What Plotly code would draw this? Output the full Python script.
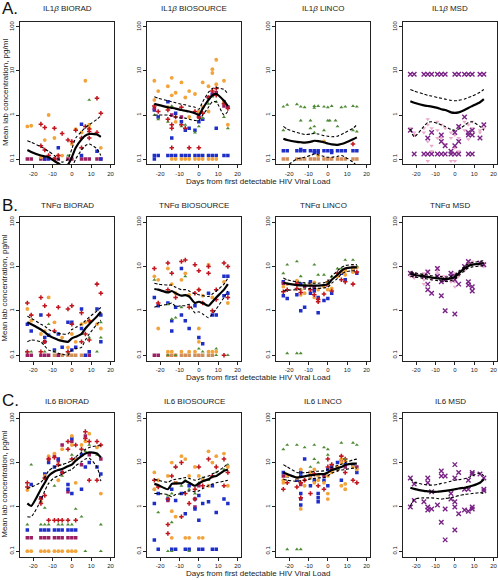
import plotly.graph_objects as go

W, H = 498, 580

FIT_DAYS = [-23, -21, -16, -14, -12, -9, -7, -5, -2, 0, 2, 5, 7, 9, 13, 15]
X_TICKS = [-20, -10, 0, 10, 20]
Y_TICKS = [0.1, 1, 10, 100]
Y_TICK_TEXT = ["0.1", "1", "10", "100"]
ROW_LABELS = ["A.", "B.", "C."]
Y_TITLE = "Mean lab concentration, pg/ml"
X_TITLE = "Days from first detectable HIV Viral Load"
TITLES = ["IL1<i>β</i> BIORAD", "IL1<i>β</i> BIOSOURCE", "IL1<i>β</i> LINCO", "IL1<i>β</i> MSD",
          "TNFα BIORAD", "TNFα BIOSOURCE", "TNFα LINCO", "TNFα MSD",
          "IL6 BIORAD", "IL6 BIOSOURCE", "IL6 LINCO", "IL6 MSD"]

# ---------------- IL1beta BIORAD ----------------
IL1B_BIORAD_red = [(-16,0.62),(-14,0.52),(-9,0.5),(-5,0.38),(-16,0.2),(-14,0.16),(-12,0.12),(-9,0.1),(-7,0.12),
                   (-2,0.27),(0,0.25),(2,0.45),(5,0.3),(5,0.18),(7,0.55),(9,0.48),(9,0.42),(9,0.3),(13,2.4),(13,0.4),(15,1.1)]
IL1B_BIORAD_orange = [(-23,0.55),(-21,0.57),(-12,1.0),(-14,0.27),(-9,0.3),(-16,0.11),(-7,0.12),(-5,0.12),(0,0.22),
                      (2,0.48),(5,0.4),(7,6.0),(9,0.5),(9,0.6),(15,0.18)]
IL1B_BIORAD_blue = [(-14,0.1),(-12,0.1),(-7,0.18),(5,0.62),(5,0.12),(13,0.15),(15,0.1)]
IL1B_BIORAD_maroon = [(-23,0.1),(-21,0.1),(-16,0.1),(-14,0.1),(-9,0.1),(-7,0.1),(-2,0.1),(0,0.1),(5,0.1),(7,0.1),
                      (9,0.1),(13,0.1),(15,0.1)]
IL1B_BIORAD_green = [(9,2.2),(5,0.3),(-2,0.12)]
IL1B_BIORAD_fit = [0.16,0.145,0.12,0.115,0.11,0.09,0.08,0.07,0.075,0.11,0.18,0.28,0.34,0.37,0.36,0.32]
IL1B_BIORAD_upper = [0.26,0.24,0.19,0.17,0.15,0.12,0.1,0.085,0.1,0.17,0.3,0.42,0.52,0.6,0.8,0.95]
IL1B_BIORAD_lower = [0.05,0.045,0.04,0.035,0.03,0.025,0.02,0.02,0.03,0.06,0.1,0.16,0.2,0.22,0.17,0.12]

# ---------------- IL1beta BIOSOURCE ----------------
IL1B_BIOSOURCE_orange = [(-23,6),(-21,3.5),(-16,4.5),(-14,7),(-14,2.8),(-12,3.2),(-9,5.5),(-7,2.5),(-5,3.5),(-2,3.0),
                         (0,1.2),(2,5.5),(5,4.5),(7,11),(7,9),(9,18),(9,5),(13,6),(15,0.6),(-16,1.5),(-12,0.7),(-5,0.9),
                         (2,1.5),(13,2),(5,1.2),(-23,2.2),(-14,0.1),(-12,0.1),(-9,0.1),(-7,0.1),(-5,0.1),(-2,0.1),(0,0.1),
                         (2,0.1),(5,0.1),(7,0.1),(9,0.1)]
IL1B_BIOSOURCE_red = [(-23,1.6),(-21,1.2),(-16,1.3),(-14,0.6),(-14,0.5),(-14,0.18),(-12,0.9),(-9,1.5),(-9,0.6),(-5,0.18),
                      (-2,1.2),(0,0.18),(0,0.9),(2,1.1),(5,2.5),(7,3.5),(9,4),(9,2.8),(13,1.8),(15,1.4),(-7,0.5),(-16,0.8)]
IL1B_BIOSOURCE_blue = [(-23,1.3),(-21,0.9),(-16,2.0),(-14,0.3),(-12,1.1),(-9,0.7),(-7,0.45),(-5,0.5),(-2,0.45),(0,0.7),
                       (0,0.9),(2,0.8),(5,2.5),(7,3.0),(9,0.5),(13,2.0),(15,1.5),(-23,0.12),(-21,0.12),(-16,0.12),
                       (-14,0.12),(-12,0.12),(-9,0.12),(-7,0.12),(-5,0.12),(-2,0.12),(0,0.12),(2,0.12),(5,0.12),
                       (7,0.12),(9,0.12),(13,0.12),(15,0.12),(-23,0.1)]
IL1B_BIOSOURCE_maroon = [(-23,1.4),(-14,1.0),(-9,0.9),(0,1.1),(7,2.8),(9,3.2),(13,1.6),(15,1.5)]
IL1B_BIOSOURCE_green = [(-23,1.0),(-21,0.8),(-16,0.7),(-14,1.6),(-9,0.55),(-7,0.6),(-2,0.4),(0,0.55),(2,0.85),(5,1.8),
                        (7,2.6),(9,2.0),(13,0.9),(15,0.5)]
IL1B_BIOSOURCE_fit = [1.8,1.7,1.5,1.45,1.4,1.3,1.25,1.2,1.1,1.0,1.4,2.2,2.8,3.0,2.1,1.6]
IL1B_BIOSOURCE_upper = [2.6,2.4,2.1,2.0,1.9,1.75,1.7,1.6,1.5,1.35,2.0,3.3,4.0,4.2,3.8,3.0]
IL1B_BIOSOURCE_lower = [1.0,1.0,1.0,0.95,0.9,0.85,0.85,0.8,0.75,0.75,1.0,1.5,2.0,2.0,1.0,1.2]

# ---------------- IL1beta LINCO ----------------
IL1B_LINCO_green = [(-23,1.55),(-21,1.7),(-16,1.75),(-14,1.55),(-12,1.5),(-7,1.6),(-7,1.45),(-5,1.6),(-2,1.55),(0,1.5),
                    (2,1.6),(7,1.5),(9,1.55),(13,1.6),(15,1.55),(-14,0.75),(-9,0.75),(0,0.75),(1,0.75),(4,0.75),
                    (-23,0.45),(-9,0.5),(-7,0.55),(-2,0.45),(5,0.55),(13,0.45),(15,0.42),(-7,0.4)]
IL1B_LINCO_blue = [(-23,0.155),(-21,0.155),(-16,0.155),(-14,0.155),(-12,0.155),(-9,0.155),(-7,0.155),(-5,0.155),
                   (-2,0.155),(0,0.155),(2,0.155),(5,0.155),(7,0.155),(9,0.155),(13,0.155),(15,0.155),(-7,0.14),
                   (-5,0.14),(-14,0.165),(2,0.14)]
IL1B_LINCO_tan = [(-23,0.1),(-21,0.1),(-16,0.1),(-14,0.1),(-12,0.1),(-9,0.1),(-7,0.1),(-5,0.1),(-2,0.1),(0,0.1),
                  (2,0.1),(5,0.1),(7,0.1),(9,0.1),(13,0.1),(15,0.1)]
IL1B_LINCO_orange = [(-2,0.25),(-5,0.12)]
IL1B_LINCO_red = [(13,0.22)]
IL1B_LINCO_fit = [0.29,0.27,0.245,0.24,0.235,0.245,0.26,0.255,0.24,0.225,0.215,0.21,0.22,0.235,0.28,0.31]
IL1B_LINCO_upper = [0.55,0.48,0.4,0.38,0.36,0.37,0.38,0.37,0.34,0.33,0.32,0.33,0.36,0.4,0.5,0.6]
IL1B_LINCO_lower = [0.05,0.07,0.1,0.105,0.11,0.12,0.13,0.125,0.115,0.11,0.11,0.115,0.12,0.11,0.085,0.07]

# ---------------- IL1beta MSD ----------------
IL1B_MSD_purple = [(-23,8.4),(-21,8.4),(-16,8.4),(-14,8.4),(-12,8.4),(-9,8.4),(-7,8.4),(-5,8.4),(0,8.4),(2,8.4),
                   (5,8.4),(7,8.4),(9,8.4),(13,8.4),(15,8.4),
                   (-21,0.13),(-16,0.13),(-14,0.13),(-12,0.13),(-9,0.13),(-7,0.13),(-5,0.13),(-2,0.13),(0,0.13),
                   (2,0.13),(7,0.13),(9,0.13),
                   (-23,0.45),(-14,0.3),(-12,0.4),(-7,0.35),(-7,0.25),(-5,0.2),(-2,0.15),(0,0.2),(0,0.4),(2,0.25),
                   (2,0.55),(5,0.9),(7,0.4),(7,0.35),(9,0.45),(9,0.35),(13,0.3),(15,0.6)]
IL1B_MSD_pink = [(-23,0.5),(-21,0.4),(-21,0.35),(-16,0.5),(-16,0.4),(-14,0.6),(-14,0.8),(-14,0.25),(-12,0.2),
                 (-12,0.15),(-12,0.5),(-9,0.7),(-9,0.45),(-9,0.3),(-7,0.6),(-7,0.3),(-5,0.5),(-5,0.22),(-2,0.4),
                 (-2,0.3),(0,0.35),(0,0.18),(2,0.55),(2,0.3),(2,0.15),(5,0.45),(5,0.7),(7,0.6),(7,0.28),(9,0.7),
                 (9,0.5),(13,0.45),(13,0.4),(15,0.5),(-14,0.09),(-2,0.09),(0,0.09)]
IL1B_MSD_fit = [2.05,1.9,1.65,1.6,1.55,1.45,1.35,1.3,1.15,1.12,1.15,1.3,1.45,1.6,1.95,2.3]
IL1B_MSD_upper = [3.8,3.5,3.0,2.8,2.7,2.5,2.4,2.3,2.15,2.1,2.15,2.3,2.5,2.7,3.3,3.8]
IL1B_MSD_lower = [0.48,0.32,0.55,0.68,0.7,0.65,0.6,0.55,0.47,0.45,0.48,0.58,0.68,0.7,0.55,0.45]

# ---------------- TNFalpha BIORAD ----------------
TNF_BIORAD_red = [(-23,1.5),(-21,0.8),(-16,2.0),(-14,1.3),(-12,0.8),(-9,0.35),(-7,1.2),(-2,1.1),(0,1.3),(5,0.9),
                  (7,0.3),(9,0.22),(13,4.0),(15,2.5),(-16,0.12),(-23,0.12),(-2,0.12),(5,0.2),(9,0.6),(0,0.5),(-14,0.2)]
TNF_BIORAD_orange = [(-23,1.1),(-21,0.6),(-14,0.35),(-12,2.0),(-9,0.55),(-5,0.25),(0,0.3),(2,0.2),(5,0.5),(7,0.55),
                     (9,0.6),(15,0.4),(-16,0.3),(-2,0.15),(13,0.5)]
TNF_BIORAD_blue = [(-23,0.5),(-21,0.35),(-16,0.8),(-14,0.2),(-12,0.28),(-9,0.13),(-7,0.3),(-5,0.15),(-2,0.55),(0,0.55),
                   (2,0.15),(5,1.1),(5,0.4),(7,0.1),(9,0.12),(13,1.1),(15,0.8),(15,0.2),(-14,0.25),(0,0.13)]
TNF_BIORAD_maroon = [(-23,0.1),(-21,0.1),(-16,0.1),(-14,0.1),(-12,0.1),(-7,0.1),(9,0.1)]
TNF_BIORAD_green = [(-23,0.12),(-21,0.12),(-14,0.12),(-9,0.12),(-2,0.12),(13,0.12),(9,0.25),(15,0.25),(-12,0.5),
                    (5,0.3),(15,0.55)]
TNF_BIORAD_tan = [(-9,0.1),(-7,0.1),(-5,0.1),(-2,0.1),(0,0.1),(2,0.1),(5,0.1)]
TNF_BIORAD_fit = [0.55,0.5,0.38,0.33,0.28,0.24,0.22,0.21,0.2,0.24,0.26,0.3,0.4,0.5,0.75,0.95]
TNF_BIORAD_upper = [0.75,0.68,0.5,0.45,0.38,0.33,0.31,0.3,0.3,0.38,0.42,0.5,0.6,0.72,1.0,1.2]
TNF_BIORAD_lower = [0.2,0.22,0.2,0.16,0.13,0.12,0.11,0.105,0.1,0.13,0.14,0.15,0.22,0.3,0.5,0.62]

# ---------------- TNFalpha BIOSOURCE ----------------
TNF_BIOSOURCE_red = [(-23,9),(-16,12),(-14,7),(-9,13),(-7,14),(-2,11),(0,8),(5,7),(5,10),(9,3),(13,12),(15,10),
                     (-21,1.5),(-16,3),(-12,2),(-5,1.2),(2,1.5),(7,1),(9,1.8),(15,2),(13,0.1),(-2,2.5),(0,3)]
TNF_BIOSOURCE_orange = [(-23,6),(-21,5),(-16,9),(-14,4),(-12,2.5),(-9,5),(-7,7),(-5,2.3),(0,3),(2,2.2),(5,11),(7,2),
                        (13,4.5),(15,1.5),(-21,0.4),(-16,0.12),(-14,0.12),(-9,0.12),(-5,0.12),(-2,0.12),(0,0.4),
                        (7,0.12),(9,0.12),(0,0.2),(5,0.12)]
TNF_BIOSOURCE_tan = [(-16,0.1),(-14,0.1),(-12,0.1),(-9,0.1),(-7,0.1),(-5,0.1),(-2,0.1),(0,0.1),(2,0.1),(5,0.1),(7,0.1)]
TNF_BIOSOURCE_blue = [(-23,2),(-21,1.3),(-16,1.5),(-14,0.35),(-14,0.6),(-12,1.2),(-9,9),(-9,0.8),(-7,0.6),(-5,0.4),
                      (0,0.25),(2,0.18),(5,2.5),(7,0.8),(13,2.2),(15,6),(-2,1.3),(9,0.8),(13,6),(15,2.5)]
TNF_BIOSOURCE_maroon = [(-23,0.1),(-21,0.1)]
TNF_BIOSOURCE_green = [(-23,5),(-16,1.4),(-12,0.7),(-14,0.65),(-9,1.2),(-7,6),(-5,0.12),(0,0.14),(2,0.12),(9,0.14),
                       (-16,0.1),(-12,0.1),(9,0.1),(15,0.1)]
TNF_BIOSOURCE_fit = [3.1,3.0,2.6,2.8,2.5,2.2,2.25,2.1,1.5,1.6,1.5,1.3,1.6,2.0,3.0,4.0]
TNF_BIOSOURCE_upper = [4.2,4.0,3.8,3.8,3.4,3.0,3.0,2.8,2.4,2.3,2.2,2.1,2.4,2.8,4.0,5.5]
TNF_BIOSOURCE_lower = [1.2,1.3,1.4,1.5,1.25,1.3,1.3,1.4,0.9,0.95,0.85,0.7,0.85,1.1,2.0,2.8]

# ---------------- TNFalpha LINCO ----------------
TNF_LINCO_green = [(-23,7),(-21,11),(-16,13),(-14,6),(-7,11),(-5,6.5),(-2,6.5),(2,6),(7,9),(9,14),(13,14),(15,10),
                   (-21,0.11),(-16,0.11),(-14,0.11),(-12,4),(0,4.5),(5,9)]
TNF_LINCO_blue = [(-23,4.5),(-23,2.2),(-21,1.9),(-16,2.3),(-14,1.0),(-12,1.2),(-9,4.5),(-9,2.5),(-7,2.8),(-5,0.9),
                  (-5,2.0),(-2,1.7),(0,1.9),(2,2.5),(7,7),(9,5),(13,8),(15,7),(-14,4),(-7,3.2)]
TNF_LINCO_orange = [(-23,3.5),(-21,4),(-16,4.8),(-14,3),(-12,2.5),(-9,3.8),(-7,4.4),(-5,3),(-2,3.5),(0,4.0),(2,3.2),
                    (5,6),(7,7.5),(9,8),(13,9),(15,9.5),(-14,2.3),(-7,2.0),(0,3.0),(9,6.5),(13,7.5)]
TNF_LINCO_red = [(-23,2.7),(-21,3.0),(-16,4.0),(-14,2.6),(-9,3.0),(-7,2.3),(-5,1.8),(-2,2.4),(0,4.5),(2,2.8),(5,7),
                 (7,5),(9,4.5),(13,4.0),(15,7.5),(-16,3.2),(-5,1.6)]
TNF_LINCO_maroon = [(-23,4.2),(-16,4.5),(-12,3.6),(-7,3.5),(0,3.8),(9,8.5),(13,9.5)]
TNF_LINCO_fit = [4.3,4.1,3.8,3.75,3.7,3.7,3.7,3.7,3.8,4.0,5.0,6.5,8.0,9.0,9.5,9.5]
TNF_LINCO_upper = [5.5,5.0,4.5,4.4,4.3,4.2,4.2,4.2,4.3,4.6,6.0,8.0,9.5,10.5,11.0,11.0]
TNF_LINCO_lower = [2.8,2.9,3.0,3.1,3.1,3.2,3.2,3.2,3.3,3.4,4.2,5.4,6.7,7.5,8.0,7.8]

# ---------------- TNFalpha MSD ----------------
TNF_MSD_purple = [(-23,7),(-16,6),(-14,7.5),(-14,4),(-14,3),(-12,2.5),(-9,6),(-7,2.2),(-7,4.5),(-5,1.0),(-5,5),
                  (-2,6),(0,6),(0,0.85),(2,4),(5,10),(7,4.5),(7,3.8),(9,3.5),(9,2.8),(13,12),(15,11),(-2,7),(0,5),
                  (-21,6.5),(-9,9),(7,13)]
TNF_MSD_pink = [(-23,6),(-21,5.5),(-21,6.5),(-16,7),(-16,5),(-14,6),(-12,5.5),(-12,5),(-9,8),(-9,7),(-9,9.5),(-7,6),
                (-7,5),(-5,5.5),(-5,6),(-2,5),(-2,4.5),(0,7),(0,3.5),(2,6),(2,6.5),(5,8),(5,9),(7,12),(7,13),(9,11),
                (9,13),(9,12),(13,11),(15,10),(15,12),(-14,8),(-16,4),(0,4.5)]
TNF_MSD_fit = [6.8,6.5,6.0,5.8,5.6,5.4,5.3,5.2,5.4,5.8,7.0,9.0,10.3,11.0,11.5,12.0]
TNF_MSD_upper = [7.6,7.2,6.6,6.4,6.2,6.0,5.9,5.8,6.0,6.5,7.8,10.0,11.5,12.3,13.0,13.5]
TNF_MSD_lower = [6.0,5.8,5.4,5.2,5.0,4.8,4.7,4.6,4.8,5.2,6.2,8.0,9.2,9.8,10.2,10.6]

# ---------------- IL6 BIORAD ----------------
IL6_BIORAD_red = [(-23,2.8),(-16,1.2),(-14,4.5),(-12,12),(-9,13),(-7,9),(-5,6),(-2,20),(-2,30),(0,12),(2,25),(5,20),
                  (7,50),(7,35),(9,30),(13,30),(15,25),(-16,1.5),(-14,1.8),(9,4),(13,4),(-12,0.5),(-9,0.5),(-7,0.5),
                  (-5,0.5),(-2,0.5),(2,0.5),(-23,3.5)]
IL6_BIORAD_orange = [(-23,2.4),(-14,5),(-12,14),(-9,16),(-5,20),(0,40),(0,25),(2,12),(5,25),(7,30),(9,45),(13,22),
                     (15,2.0),(-7,4),(2,3.5),(-16,1.3),(-23,0.1),(-21,0.1),(-16,0.1),(-14,0.1),(-12,0.1),(-9,0.1),
                     (-7,0.1),(-5,0.1),(-2,0.1),(0,0.1),(2,0.1)]
IL6_BIORAD_blue = [(-21,3.2),(-16,1.6),(-14,5.5),(-12,10),(-9,8),(-7,12),(-5,6),(-2,3.2),(0,35),(2,12),(5,15),(5,2.5),
                   (7,8),(9,10),(13,8),(15,5.5),(-2,2.5),(0,2),(-14,4.5),(-23,0.3),(-16,0.3),(-14,0.3),(-12,0.3),
                   (-9,0.3),(-7,0.3),(-5,0.3),(-2,0.3),(0,0.3),(2,0.3)]
IL6_BIORAD_maroon = [(-12,12),(-9,14),(-7,11),(-5,25),(0,30),(5,9),(9,15),(15,12),(-2,2.2),(7,40),(-23,0.2),(-21,0.2),
                     (-16,0.2),(-14,0.2),(-12,0.2),(-9,0.2),(-7,0.2),(-5,0.2),(-2,0.2),(0,0.2),(2,0.2)]
IL6_BIORAD_green = [(-21,9),(-14,0.95),(-9,3),(-5,5),(0,15),(5,20),(7,18),(9,25),(13,15),(15,0.1),(2,0.9),(-23,0.4),
                    (-16,0.4),(-14,0.4),(-12,0.4),(-7,0.4),(-5,0.4),(-2,0.4),(0,0.4),(5,0.6),(7,0.1),(0,0.1),(-7,0.1),
                    (15,0.4)]
IL6_BIORAD_fit = [1.2,1.05,2.5,3.5,5.0,6.3,6.8,7.2,8.3,9.0,11.0,14.0,16.0,17.0,16.0,13.0]
IL6_BIORAD_upper = [2.6,2.8,3.6,4.6,6.5,8.0,8.5,9.0,10.0,11.0,13.5,17.0,20.0,22.0,24.0,24.0]
IL6_BIORAD_lower = [0.6,0.6,1.4,2.3,3.4,4.6,5.0,5.5,6.5,7.0,8.5,10.5,12.0,12.5,8.0,3.8]

# ---------------- IL6 BIOSOURCE ----------------
IL6_BIOSOURCE_red = [(-23,4),(-21,2.8),(-16,1.5),(-16,0.4),(-16,0.25),(-14,5),(-12,8),(-9,10),(-7,2),(-5,1.2),(-2,2.5),
                     (0,8),(2,3),(5,12),(7,5),(9,8),(13,12),(15,6),(-9,0.6),(-2,1.5),(13,3)]
IL6_BIOSOURCE_orange = [(-23,6),(-21,4),(-16,5),(-14,10),(-12,3.5),(-9,14),(-7,12),(-5,5),(-2,8),(0,5),(2,4),(5,18),
                        (7,10),(9,14),(13,16),(15,8),(-14,0.8),(-12,0.6),(-14,0.2),(-7,0.2),(-5,0.2),(0,0.2),(2,0.2),
                        (-23,2.5),(5,3),(15,3)]
IL6_BIOSOURCE_blue = [(-23,1.2),(-21,2),(-16,1.5),(-14,2.5),(-12,1.4),(-9,2.0),(-7,0.7),(-5,3),(-2,1.5),(0,0.5),(2,1.2),
                      (5,1.3),(7,3),(9,0.75),(13,1.5),(15,1.2),(-23,0.18),(-21,0.11),(-14,0.11),(-12,0.11),(-7,0.11),
                      (-5,0.11),(0,0.11),(2,0.11),(7,0.11),(9,0.11),(-2,0.9),(0,1.8)]
IL6_BIOSOURCE_maroon = [(-16,1.4),(-12,3.5),(-2,1.0),(0,3)]
IL6_BIOSOURCE_green = [(-23,2.5),(-21,0.75),(-16,1.8),(-14,2),(-12,8),(-9,3),(-7,4),(-5,2.5),(-2,2),(0,3.5),(2,4.5),
                       (5,4),(7,5),(9,6),(13,7),(15,9),(-14,0.45),(-5,0.1),(-16,0.1),(-14,0.1)]
IL6_BIOSOURCE_fit = [3.3,3.1,2.5,3.3,3.4,3.4,3.8,3.5,3.0,3.4,3.8,4.2,4.8,5.0,6.5,7.0]
IL6_BIOSOURCE_upper = [4.2,4.0,3.6,4.0,4.2,4.4,4.6,4.4,4.0,4.2,4.6,5.0,5.6,6.0,8.0,9.5]
IL6_BIOSOURCE_lower = [2.0,2.0,1.9,1.7,1.9,2.0,2.2,2.3,2.2,2.3,2.6,3.0,3.3,3.5,3.8,4.0]

# ---------------- IL6 LINCO ----------------
IL6_LINCO_green = [(-23,20),(-21,25),(-16,25),(-12,22),(-7,25),(-2,22),(0,20),(7,28),(13,28),(15,25),(-5,10),(0,15),
                   (9,12),(-21,0.11),(-16,0.11),(-14,0.11),(-7,12),(-9,8),(5,7)]
IL6_LINCO_blue = [(-23,6),(-21,5),(-16,4),(-14,6),(-14,1.5),(-14,1.1),(-14,2),(-12,12),(-9,3),(-7,4),(-5,2),(-5,1.3),
                  (-5,1.6),(-2,4),(0,7),(0,3),(2,8),(5,10),(7,4),(9,9),(13,9),(15,6),(-14,5),(-9,5)]
IL6_LINCO_orange = [(-23,4),(-23,3.5),(-21,5),(-16,4.5),(-14,0.9),(-14,7),(-12,4),(-9,6),(-9,4.5),(-7,7),(-5,5),(-5,4),
                    (-2,3.5),(0,2),(0,1.5),(2,6),(5,8),(7,3),(7,10),(9,2.5),(9,11),(13,8),(15,7),(-12,3),(-7,3.5),
                    (0,5),(7,12),(9,3.3)]
IL6_LINCO_red = [(-23,2.5),(-21,3.5),(-16,2.8),(-14,3.5),(-12,4),(-9,2),(-7,5.5),(-5,3),(-2,2.5),(0,12),(0,8),(2,9),
                 (5,7),(7,14),(9,6),(13,4),(15,3.5),(-14,1.6),(9,12)]
IL6_LINCO_maroon = [(-23,5),(-14,3.2),(-9,6),(-2,5),(2,7),(7,11),(9,8),(15,8)]
IL6_LINCO_fit = [6.0,5.5,4.6,4.7,4.9,5.2,5.3,5.5,5.5,6.0,6.8,7.5,8.0,8.8,9.5,9.5]
IL6_LINCO_upper = [9.0,8.0,6.0,5.9,5.9,6.1,6.3,6.4,6.5,7.0,7.8,8.6,9.2,10.0,11.5,12.0]
IL6_LINCO_lower = [4.2,4.0,3.8,3.9,4.0,4.3,4.4,4.5,4.6,5.0,5.8,6.5,6.8,7.0,7.5,7.5]

# ---------------- IL6 MSD ----------------
IL6_MSD_purple = [(-23,4.5),(-23,1.0),(-21,3.3),(-21,1.4),(-16,1.3),(-14,4.5),(-14,3.5),(-14,1.0),(-14,0.85),(-12,2.2),
                  (-12,0.9),(-9,1.1),(-7,6.5),(-7,5),(-7,0.45),(-5,5),(-5,0.9),(-5,0.18),(-2,2),(-2,1.5),(0,9),
                  (0,4.5),(0,1.3),(0,1.0),(0,0.3),(2,6),(2,0.7),(5,0.85),(5,2.5),(7,4),(7,2.5),(7,0.8),(9,6),(9,5.5),
                  (9,1.0),(9,0.9),(13,5.5),(15,2.5),(15,4.5),(15,2.3)]
IL6_MSD_fit = [2.7,2.55,2.3,2.25,2.2,2.2,2.25,2.3,2.4,2.5,2.6,2.7,2.85,3.0,3.5,4.2]
IL6_MSD_upper = [4.2,3.6,3.2,3.1,3.1,3.2,3.4,3.5,3.8,4.0,4.1,4.3,4.6,5.0,5.8,5.0]
IL6_MSD_lower = [1.05,1.5,1.6,1.6,1.6,1.55,1.5,1.55,1.6,1.7,1.8,1.9,1.95,2.0,2.1,2.0]

STYLES = {
    "tan": dict(color="#CF8E5A", symbol="square", size=3.5),
    "maroon": dict(color="#9B1F63", symbol="square", size=3.5),
    "blue": dict(color="#1E2FC8", symbol="square", size=3.5),
    "green": dict(color="#4E8B34", symbol="triangle-up", size=3.5),
    "orange": dict(color="#F2A33A", symbol="circle", size=3.8),
    "red": dict(color="#C2161E", symbol="cross", size=3.8),
    "pink": dict(color="#E9AACB", symbol="triangle-down", size=4),
    "purple": dict(color="#7A2386", symbol="x", size=4.5),
}

PANELS = [
    ({"maroon": IL1B_BIORAD_maroon, "blue": IL1B_BIORAD_blue, "green": IL1B_BIORAD_green,
      "orange": IL1B_BIORAD_orange, "red": IL1B_BIORAD_red},
     IL1B_BIORAD_fit, IL1B_BIORAD_upper, IL1B_BIORAD_lower),
    ({"blue": IL1B_BIOSOURCE_blue, "maroon": IL1B_BIOSOURCE_maroon, "green": IL1B_BIOSOURCE_green,
      "orange": IL1B_BIOSOURCE_orange, "red": IL1B_BIOSOURCE_red},
     IL1B_BIOSOURCE_fit, IL1B_BIOSOURCE_upper, IL1B_BIOSOURCE_lower),
    ({"tan": IL1B_LINCO_tan, "blue": IL1B_LINCO_blue, "green": IL1B_LINCO_green,
      "orange": IL1B_LINCO_orange, "red": IL1B_LINCO_red},
     IL1B_LINCO_fit, IL1B_LINCO_upper, IL1B_LINCO_lower),
    ({"pink": IL1B_MSD_pink, "purple": IL1B_MSD_purple},
     IL1B_MSD_fit, IL1B_MSD_upper, IL1B_MSD_lower),
    ({"tan": TNF_BIORAD_tan, "maroon": TNF_BIORAD_maroon, "blue": TNF_BIORAD_blue, "green": TNF_BIORAD_green,
      "orange": TNF_BIORAD_orange, "red": TNF_BIORAD_red},
     TNF_BIORAD_fit, TNF_BIORAD_upper, TNF_BIORAD_lower),
    ({"tan": TNF_BIOSOURCE_tan, "maroon": TNF_BIOSOURCE_maroon, "blue": TNF_BIOSOURCE_blue,
      "green": TNF_BIOSOURCE_green, "orange": TNF_BIOSOURCE_orange, "red": TNF_BIOSOURCE_red},
     TNF_BIOSOURCE_fit, TNF_BIOSOURCE_upper, TNF_BIOSOURCE_lower),
    ({"blue": TNF_LINCO_blue, "maroon": TNF_LINCO_maroon, "orange": TNF_LINCO_orange,
      "red": TNF_LINCO_red, "green": TNF_LINCO_green},
     TNF_LINCO_fit, TNF_LINCO_upper, TNF_LINCO_lower),
    ({"pink": TNF_MSD_pink, "purple": TNF_MSD_purple},
     TNF_MSD_fit, TNF_MSD_upper, TNF_MSD_lower),
    ({"maroon": IL6_BIORAD_maroon, "blue": IL6_BIORAD_blue, "green": IL6_BIORAD_green,
      "orange": IL6_BIORAD_orange, "red": IL6_BIORAD_red},
     IL6_BIORAD_fit, IL6_BIORAD_upper, IL6_BIORAD_lower),
    ({"maroon": IL6_BIOSOURCE_maroon, "blue": IL6_BIOSOURCE_blue, "green": IL6_BIOSOURCE_green,
      "orange": IL6_BIOSOURCE_orange, "red": IL6_BIOSOURCE_red},
     IL6_BIOSOURCE_fit, IL6_BIOSOURCE_upper, IL6_BIOSOURCE_lower),
    ({"blue": IL6_LINCO_blue, "maroon": IL6_LINCO_maroon, "orange": IL6_LINCO_orange,
      "red": IL6_LINCO_red, "green": IL6_LINCO_green},
     IL6_LINCO_fit, IL6_LINCO_upper, IL6_LINCO_lower),
    ({"purple": IL6_MSD_purple},
     IL6_MSD_fit, IL6_MSD_upper, IL6_MSD_lower),
]

# layout geometry (pixels)
COL_PX = [(20, 114), (147, 241), (276, 370), (403, 497)]
ROW_PX = [(21.7, 164.3), (216.8, 360.5), (413.0, 556.5)]
TITLE_Y_PX = [8.5, 205.0, 401.5]
ROWLAB_Y_PX = [8.0, 206.0, 400.0]
XTITLE_Y_PX = [181.5, 377.5, 573.0]


def px_x(v):
    return v / W


def px_y(v):
    return 1 - v / H


FONT = "Liberation Sans, Arial, Helvetica, sans-serif"
fig = go.Figure()
annotations = []

for i, (series, fit, upper, lower) in enumerate(PANELS):
    r, c = divmod(i, 4)
    k = i + 1
    xa = "x" if k == 1 else f"x{k}"
    ya = "y" if k == 1 else f"y{k}"
    for name, pts in series.items():
        st = STYLES[name]
        marker = dict(color=st["color"], symbol=st["symbol"], size=st["size"], line=dict(width=0))
        if name == "purple":
            marker = dict(color=st["color"], symbol="x-thin-open", size=st["size"],
                          line=dict(width=1.4, color=st["color"]))
        fig.add_trace(go.Scatter(x=[p[0] for p in pts], y=[p[1] for p in pts], mode="markers",
                                 marker=marker, xaxis=xa, yaxis=ya, showlegend=False, hoverinfo="x+y"))
    for vals, dash, width in ((upper, "3px,2px", 1.1), (lower, "3px,2px", 1.1), (fit, "solid", 2.2)):
        fig.add_trace(go.Scatter(x=FIT_DAYS, y=vals, mode="lines",
                                 line=dict(color="black", width=width, dash=dash, shape="spline", smoothing=0.6),
                                 xaxis=xa, yaxis=ya, showlegend=False, hoverinfo="skip"))
    x0, x1 = COL_PX[c]
    y0, y1 = ROW_PX[r]
    axis_common = dict(showline=True, mirror=True, linecolor="#222", linewidth=1, ticks="outside",
                       ticklen=3, tickwidth=1, tickcolor="#222", showgrid=False, zeroline=False,
                       tickfont=dict(size=6, color="#222", family=FONT))
    fig.layout[f"xaxis{k if k > 1 else ''}"] = dict(
        domain=[px_x(x0), px_x(x1)], anchor=ya, range=[-26.8, 21.8],
        tickvals=X_TICKS, ticktext=[str(t) for t in X_TICKS], **axis_common)
    fig.layout[f"yaxis{k if k > 1 else ''}"] = dict(
        domain=[px_y(y1), px_y(y0)], anchor=xa, type="log", range=[-1.12, 2.12],
        tickvals=Y_TICKS, ticktext=Y_TICK_TEXT, tickangle=-90, **axis_common)
    annotations.append(dict(text=TITLES[i], x=px_x((x0 + x1) / 2), y=px_y(TITLE_Y_PX[r]),
                            xref="paper", yref="paper", showarrow=False, xanchor="center", yanchor="middle",
                            font=dict(size=8, family=FONT, color="#222")))

for r in range(3):
    annotations.append(dict(text=ROW_LABELS[r], x=0.0, y=px_y(ROWLAB_Y_PX[r]), xref="paper", yref="paper",
                            showarrow=False, xanchor="left", yanchor="middle",
                            font=dict(size=17, family=FONT, color="#111")))
    y0, y1 = ROW_PX[r]
    annotations.append(dict(text=Y_TITLE, x=px_x(5), y=px_y((y0 + y1) / 2), xref="paper", yref="paper",
                            showarrow=False, textangle=-90, xanchor="center", yanchor="middle",
                            font=dict(size=8, family=FONT, color="#222")))
    annotations.append(dict(text=X_TITLE, x=px_x(258), y=px_y(XTITLE_Y_PX[r]), xref="paper", yref="paper",
                            showarrow=False, xanchor="center", yanchor="middle",
                            font=dict(size=8, family=FONT, color="#222")))

fig.update_layout(width=W, height=H, margin=dict(l=0, r=0, t=0, b=0), paper_bgcolor="white",
                  plot_bgcolor="white", annotations=annotations, showlegend=False)

fig.write_html("out.html", config={"displayModeBar": False},
               post_script="document.body.style.margin='0';document.body.style.padding='0';"
                           "document.documentElement.style.margin='0';")
